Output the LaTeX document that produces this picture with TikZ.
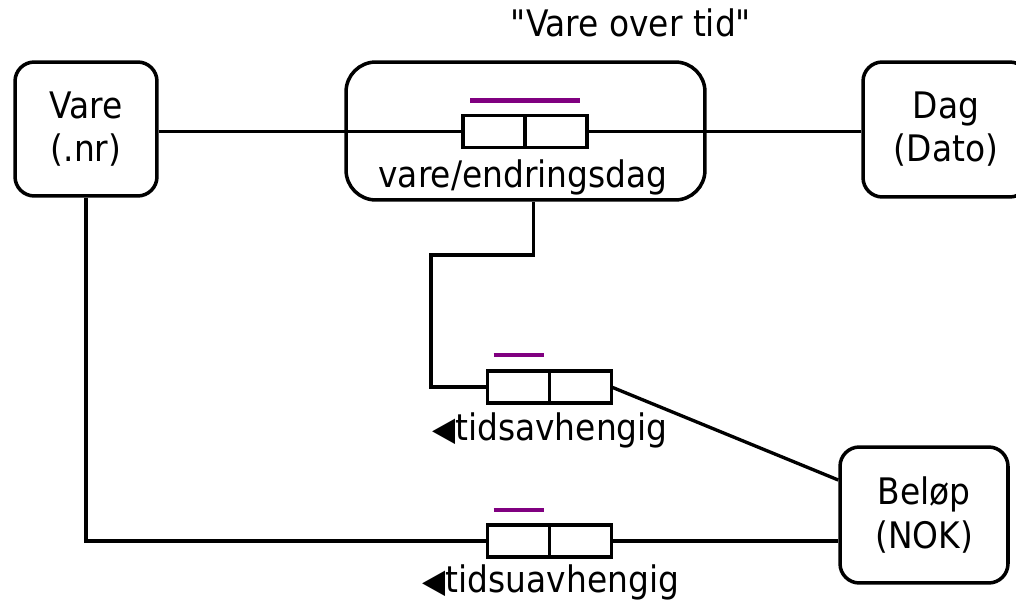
\documentclass[tikz,border=0pt]{standalone}
\usepackage{fontspec}
\setmainfont{DejaVu Sans Condensed}[Ligatures=TeXOff]
\usepackage{xcolor}
\usepackage{tikz}
\usetikzlibrary{calc,positioning}
\definecolor{ink}{HTML}{000000}
\definecolor{keyc}{HTML}{800080}
\newcommand\dfont{\fontsize{20.8}{24.5}\selectfont}
\newcommand\tri{{\fontsize{19}{19}\selectfont ◀}}
\tikzset{
  ent/.style={draw=ink, line width=2pt, rounded corners=11pt, align=center, font=\dfont, inner sep=0pt},
  rel/.style={draw=ink, line width=2pt, rounded corners=17pt, minimum width=7.18cm, minimum height=2.76cm},
  cell/.style={draw=ink, line width=1.9pt, minimum width=1.24cm, minimum height=0.64cm, inner sep=0pt, outer sep=0pt},
  conn/.style={draw=ink, line width=1.9pt},
  key/.style={draw=keyc, line width=2.6pt},
  lab/.style={text=ink, font=\dfont, inner sep=0pt, anchor=base}
}
\begin{document}
\begin{tikzpicture}[x=0.02cm, y=-0.02cm]
  \useasboundingbox (0,0) rectangle (1016,607);
  % entiteter
  \node[ent, minimum width=2.84cm, minimum height=2.68cm] (vare) at (86,129) {Vare\\(.nr)};
  \node[ent, minimum width=3.32cm, minimum height=2.7cm] (dag) at (946,129.5) {Dag\\(Dato)};
  \node[ent, minimum width=3.36cm, minimum height=2.72cm] (belop) at (924,515) {Beløp\\(NOK)};
  % vare over tid
  \node[rel] (vot) at (525.5,131) {};
  \node[lab] (votname) at (631,37) {"Vare over tid"};
  \node[lab] (votrole) at (523,188) {vare/endringsdag};
  % roller
  \node[cell] (r1a) at (494,131.5) {};
  \node[cell, right=0pt of r1a] (r1b) {};
  \node[cell] (r2a) at (518.5,387) {};
  \node[cell, right=0pt of r2a] (r2b) {};
  \node[cell] (r3a) at (518.5,541) {};
  \node[cell, right=0pt of r3a] (r3b) {};
  \node[lab] (r2lab) at (550,440) {\tri tidsavhengig};
  \node[lab] (r3lab) at (551,592) {\tri tidsuavhengig};
  % nokler
  \draw[key] ($(r1a.north west)+(7,-15)$) -- ($(r1b.north east)+(-7,-15)$);
  \draw[key] ($(r2a.north west)+(6,-16)$) -- ($(r2a.north east)+(-6,-16)$);
  \draw[key] ($(r3a.north west)+(6,-15)$) -- ($(r3a.north east)+(-6,-15)$);
  % linjer
  \coordinate (bend) at (431,255);
  \draw[conn] (r1a.west) -- (r1a.west -| vare.east);
  \draw[conn] (r1b.east) -- (r1b.east -| dag.west);
  \draw[conn] ($(vot.south)+(8,0)$) |- (bend) |- (r2a.west);
  \draw[conn] (r2b.east) -- ($(belop.west)+(0,-35)$);
  \draw[conn] (vare.south) |- (r3a.west);
  \draw[conn] (r3b.east) -- (r3b.east -| belop.west);
\end{tikzpicture}
\end{document}
